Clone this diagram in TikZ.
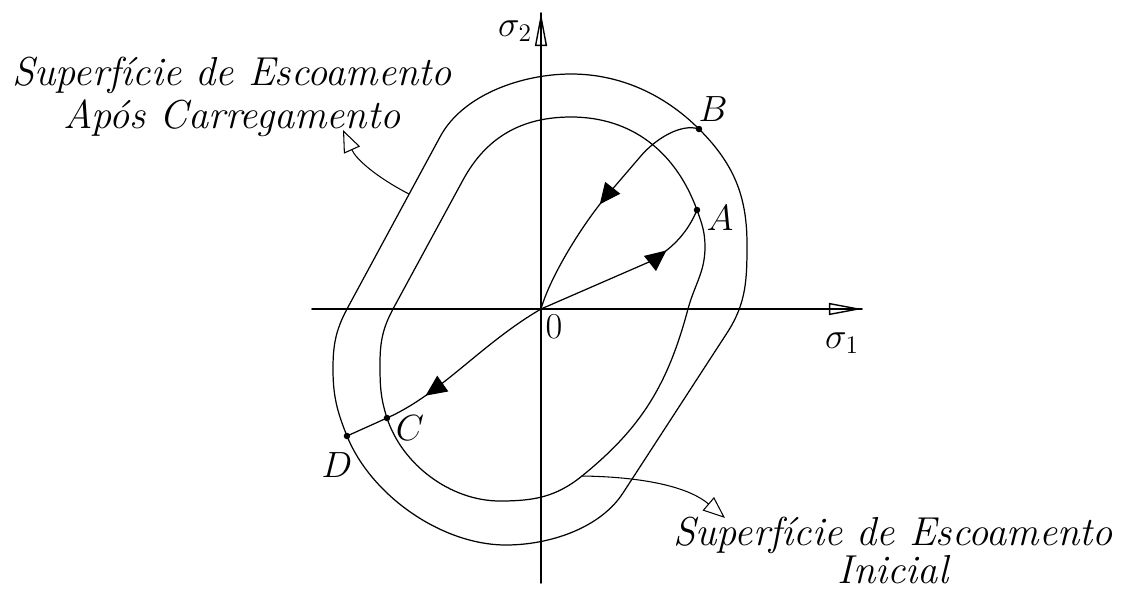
\documentclass[tikz,border=0pt]{standalone}
\usetikzlibrary{arrows.meta,decorations.markings}

\tikzset{
  surf/.style={line width=0.7pt},
  axisline/.style={line width=1pt},
  axistip/.style={line width=0.8pt,-{Triangle[open,length=6.6mm,width=2.4mm]}},
  leader/.style={line width=0.6pt,-{Triangle[open,length=4.4mm,width=3.5mm]}},
  midarrow/.style={postaction={decorate},decoration={markings,
    mark=at position #1 with {\arrow{Triangle[length=4.2mm,width=3.8mm]}}}},
  ptdot/.style={circle,fill,inner sep=0pt,minimum size=1.3mm},
  ptlabel/.style={font=\fontsize{20}{22}\selectfont},
  surflabel/.style={align=center,font=\fontsize{23}{24.5}\selectfont\itshape}
}

\begin{document}
\begin{tikzpicture}[x=0.2mm,y=0.2mm,line cap=round,line join=round,every node/.style={inner sep=0pt}]
  \useasboundingbox (-541,-280) rectangle (590,309);
  \coordinate (O) at (0,0);
  \coordinate (xl) at (-229,0);
  \coordinate (xr) at (321,0);
  \coordinate (yb) at (0,-274);
  \coordinate (yt) at (0,296);
  \draw[axisline] (xl) -- (xr);
  \draw[axisline] (yb) -- (yt);
  \draw[axistip] (250,0) -- (xr);
  \draw[axistip] (0,230) -- (yt);
  \node[ptlabel] (s1) at (301,-34) {$\sigma_1$};
  \node[ptlabel] (s2) at (-26,278) {$\sigma_2$};
  \node[ptlabel] (zero) at (13,-18) {$0$};
  \coordinate (A) at (156,99);
  \coordinate (B) at (158,180);
  \coordinate (C) at (-154,-109);
  \coordinate (D) at (-194,-127);
  \draw[surf] (30,235) to[out=0,in=135,looseness=0.9] (B)
    to[out=-45,in=90] (206,65)
    to[out=-90,in=57] (186,-24)
    -- (82,-184)
    to[out=-123,in=0,looseness=0.85] (-35,-236)
    to[out=180,in=-68,looseness=0.85] (D)
    to[out=112,in=-90] (-208,-60)
    to[out=90,in=-118] (-194,0)
    -- (-101,172)
    to[out=62,in=180,looseness=0.85] (30,235) -- cycle;
  \draw[surf] (30,192) to[out=0,in=110] (A)
    to[out=-70,in=90] (164,62)
    to[out=-90,in=75] (147,0)
    to[out=-105,in=39] (41,-167)
    to[out=-141,in=0] (-41,-192)
    to[out=180,in=-72,looseness=0.9] (C)
    to[out=108,in=-90] (-161,-55)
    to[out=90,in=-118] (-148,0)
    -- (-78,129)
    to[out=61.5,in=180] (30,192) -- cycle;
  \draw[surf,midarrow=0.73] (O) -- (108,47) .. controls (135,62) and (148,80) .. (A);
  \draw[surf,midarrow=0.52] (B) .. controls (140,186) and (114,170) .. (99,152)
    -- (69,117) .. controls (45,90) and (10,35) .. (O);
  \draw[surf,midarrow=0.62] (O) .. controls (-60,-35) and (-100,-85) .. (C) -- (D);
  \foreach \p in {A,B,C,D} \node[ptdot] at (\p) {};
  \node[ptlabel] (lA) at (179,91) {$A$};
  \node[ptlabel] (lB) at (172,200) {$B$};
  \node[ptlabel] (lC) at (-131,-119) {$C$};
  \node[ptlabel] (lD) at (-204,-156) {$D$};
  \node[surflabel] (after) at (-309,212) {Superfície de Escoamento\\Após Carregamento};
  \node[surflabel,font=\fontsize{23}{21.6}\selectfont\itshape] (initial) at (352,-241)
    {Superfície de Escoamento\\Inicial};
  \coordinate (as) at (-132,115);
  \coordinate (at) at (-198,179);
  \coordinate (is) at (41,-167);
  \coordinate (it) at (184,-209);
  \draw[leader] (as) .. controls (-165,132) and (-185,150) .. (at);
  \draw[leader] (is) .. controls (110,-168) and (150,-180) .. (it);
\end{tikzpicture}
\end{document}
